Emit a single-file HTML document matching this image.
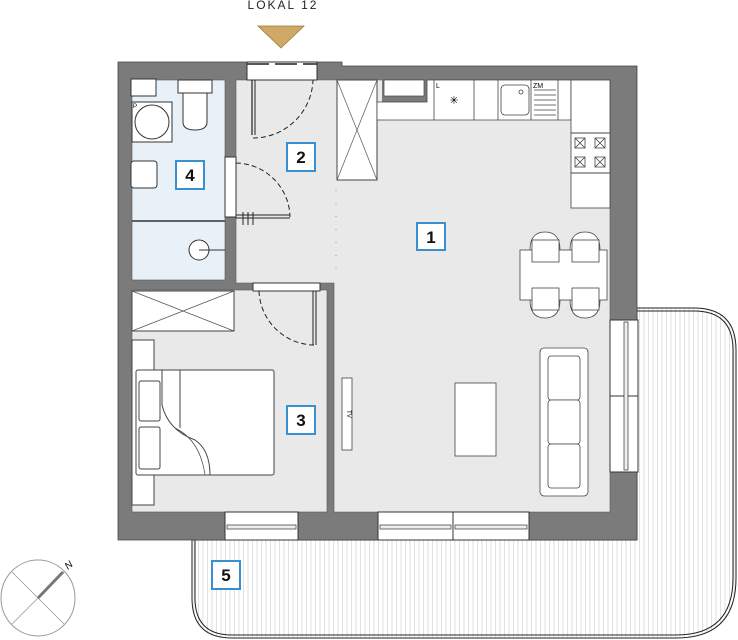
<!DOCTYPE html>
<html><head><meta charset="utf-8"><style>html,body{margin:0;padding:0;background:#fff}svg{display:block}</style></head>
<body>
<svg width="738" height="640" viewBox="0 0 738 640" xmlns="http://www.w3.org/2000/svg" font-family="Liberation Sans, sans-serif">
<defs>
<pattern id="st" width="4.5" height="10" patternUnits="userSpaceOnUse"><rect width="4.5" height="10" fill="#fff"/><line x1="0.5" y1="0" x2="0.5" y2="10" stroke="#d8d8d8" stroke-width="0.8"/></pattern>
</defs>
<!-- terrace -->
<path d="M192 540 L192 598 Q192 638 232 638 L676 638 Q736 638 736 578 L736 350 Q736 308 694 308 L637 308 L637 540 Z" fill="url(#st)" stroke="#222" stroke-width="1"/>
<path d="M195 540 L195 598 Q195 635 232 635 L676 635 Q733 635 733 578 L733 350 Q733 311 694 311 L637 311" fill="none" stroke="#222" stroke-width="1"/>
<!-- walls -->
<path d="M118 62 L342 62 L342 66 L637 66 L637 540 L118 540 Z" fill="#7b7b7b" stroke="#444" stroke-width="0.8"/>
<!-- floors -->
<rect x="132" y="80" width="93" height="200" fill="#e8f0f8" stroke="#555" stroke-width="0.6"/>
<path d="M236 80 L610 80 L610 512 L334 512 L334 283 L236 283 Z" fill="#e9e9e9" stroke="#555" stroke-width="0.6"/>
<rect x="132" y="290" width="195" height="222" fill="#e9e9e9" stroke="#555" stroke-width="0.6"/>
<!-- entrance door -->
<rect x="247" y="62" width="70" height="18" fill="#fff" stroke="#333"/>
<line x1="247" y1="64" x2="317" y2="64" stroke="#222" stroke-width="1.5" stroke-dasharray="22 6"/>
<line x1="252" y1="80" x2="252" y2="135" stroke="#222" stroke-width="1.2"/><line x1="255" y1="80" x2="255" y2="135" stroke="#222" stroke-width="1"/>
<path d="M253 138 A60 60 0 0 0 313 80" fill="none" stroke="#222" stroke-dasharray="5 3"/>
<!-- triangle & title -->
<polygon points="258,26 304,26 281,48" fill="#cfa965" stroke="#9a7a40" stroke-width="0.8"/>
<text x="283" y="9" text-anchor="middle" font-size="12" letter-spacing="2" fill="#222">LOKAL 12</text>
<!-- bath door -->
<rect x="225" y="157" width="11" height="60" fill="#fff" stroke="#333"/>
<path d="M236 163 A55 55 0 0 1 290 217" fill="none" stroke="#222" stroke-dasharray="5 3"/>
<line x1="236" y1="215" x2="290" y2="215" stroke="#222"/><line x1="236" y1="218" x2="290" y2="218" stroke="#222"/>
<g stroke="#222"><line x1="243" y1="212" x2="243" y2="225"/><line x1="248" y1="212" x2="248" y2="225"/><line x1="253" y1="212" x2="253" y2="225"/></g>
<!-- bath fixtures -->
<rect x="131" y="79" width="25" height="17" fill="#fff" stroke="#333"/>
<rect x="132" y="102" width="40" height="40" fill="#fff" stroke="#333"/>
<circle cx="152" cy="122" r="17" fill="#fff" stroke="#333"/>
<text x="133" y="108" font-size="6">P</text>
<rect x="178" y="80" width="34" height="13" fill="#fff" stroke="#333"/>
<path d="M183 93 L207 93 L207 122 Q207 130 195 130 Q183 130 183 122 Z" fill="#fff" stroke="#333"/>
<rect x="131" y="161" width="26" height="27" rx="3" fill="#fff" stroke="#333"/>
<line x1="132" y1="221" x2="225" y2="221" stroke="#333" stroke-width="1.5"/>
<circle cx="199" cy="250" r="10" fill="#fff" stroke="#333"/><line x1="199" y1="250" x2="225" y2="250" stroke="#333"/>
<!-- hall dots -->
<line x1="336" y1="190" x2="336" y2="270" stroke="#999" stroke-dasharray="1 12"/>
<!-- bedroom door -->
<rect x="253" y="283" width="67" height="8" fill="#fff" stroke="#333"/>
<line x1="316" y1="291" x2="316" y2="345" stroke="#222"/><line x1="313" y1="291" x2="313" y2="345" stroke="#222"/>
<path d="M259 291 A56 56 0 0 0 314 345" fill="none" stroke="#222" stroke-dasharray="5 3"/>
<!-- bedroom furniture -->
<rect x="132" y="291" width="102" height="40" fill="#fff" stroke="#444"/>
<path d="M132 291 L234 331 M234 291 L132 331" stroke="#555" stroke-width="0.7"/>
<rect x="132" y="340" width="22" height="165" fill="#fff" stroke="#444"/>
<rect x="136" y="370" width="138" height="105" rx="2" fill="#fff" stroke="#444"/>
<line x1="180" y1="370" x2="180" y2="428" stroke="#444"/>
<path d="M162 370 L162 405 Q168 430 195 440 Q210 450 210 475" fill="none" stroke="#444"/>
<path d="M175 428 Q200 440 205 475" fill="none" stroke="#444" stroke-width="0.7"/>
<rect x="139" y="381" width="21" height="40" rx="2" fill="#fff" stroke="#444"/>
<rect x="139" y="427" width="21" height="42" rx="2" fill="#fff" stroke="#444"/>
<!-- kitchen -->
<rect x="337" y="80" width="40" height="100" fill="#fff" stroke="#444"/>
<path d="M337 80 L377 180 M377 80 L337 180" stroke="#555" stroke-width="0.7"/>
<rect x="382" y="80" width="45" height="22" fill="#7b7b7b"/><rect x="384" y="80" width="40" height="16" fill="#fff" stroke="#444" stroke-width="0.7"/>
<path d="M377 102 L427 102 L427 80 L571 80 L571 120 L377 120 Z" fill="#fff" stroke="#444" stroke-width="0.8"/>
<g stroke="#444" stroke-width="0.8" fill="none"><line x1="434" y1="80" x2="434" y2="120"/><line x1="474" y1="80" x2="474" y2="120"/><line x1="498" y1="80" x2="498" y2="120"/><line x1="531" y1="80" x2="531" y2="120"/><line x1="558" y1="80" x2="558" y2="120"/>
<rect x="501" y="85" width="28" height="30" rx="4"/><circle cx="521" cy="92" r="2"/>
<path d="M534 90 H556 M534 95 H556 M534 100 H556 M534 105 H556 M534 110 H556 M534 115 H556"/></g>
<text x="436" y="88" font-size="7">L</text><text x="533" y="88" font-size="7">ZM</text>
<text x="454" y="104" font-size="11" text-anchor="middle">✳</text>
<rect x="571" y="80" width="39" height="128" fill="#fff" stroke="#444" stroke-width="0.8"/>
<line x1="571" y1="133" x2="610" y2="133" stroke="#444"/><line x1="571" y1="173" x2="610" y2="173" stroke="#444"/>
<g fill="none" stroke="#444" stroke-width="0.8">
<rect x="575" y="138" width="10" height="10"/><rect x="595" y="138" width="10" height="10"/><rect x="575" y="157" width="10" height="10"/><rect x="595" y="157" width="10" height="10"/>
<path d="M575 138 l10 10 m0 -10 l-10 10 M595 138 l10 10 m0 -10 l-10 10 M575 157 l10 10 m0 -10 l-10 10 M595 157 l10 10 m0 -10 l-10 10"/></g>
<!-- dining -->
<g fill="#fff" stroke="#444" stroke-width="0.8">
<path d="M530 250 Q530 232 545 232 Q560 232 560 250"/><path d="M570 250 Q570 232 585 232 Q600 232 600 250"/>
<path d="M530 300 Q530 318 545 318 Q560 318 560 300"/><path d="M570 300 Q570 318 585 318 Q600 318 600 300"/>
<rect x="520" y="250" width="87" height="50"/>
<rect x="532" y="240" width="27" height="22"/><rect x="572" y="240" width="27" height="22"/>
<rect x="532" y="288" width="27" height="22"/><rect x="572" y="288" width="27" height="22"/>
<!-- sofa -->
<rect x="540" y="348" width="48" height="148" rx="4"/>
<rect x="548" y="356" width="32" height="44" rx="3"/><rect x="548" y="400" width="32" height="44" rx="3"/><rect x="548" y="444" width="32" height="44" rx="3"/>
<rect x="455" y="383" width="41" height="73"/>
<rect x="342" y="378" width="10" height="72"/>
</g>
<text x="347" y="414" font-size="6" transform="rotate(90 347 414)" text-anchor="middle">TV</text>
<!-- right windows -->
<rect x="610" y="320" width="28" height="152" fill="#fff" stroke="#333"/>
<line x1="610" y1="396" x2="638" y2="396" stroke="#333"/>
<rect x="624" y="322" width="4" height="148" fill="#eee" stroke="#333" stroke-width="0.7"/>
<!-- bottom windows -->
<g fill="#fff" stroke="#333">
<rect x="225" y="512" width="73" height="28"/><rect x="378" y="512" width="75" height="28"/><rect x="453" y="512" width="76" height="28"/>
</g>
<g fill="#eee" stroke="#333" stroke-width="0.7">
<rect x="227" y="525" width="69" height="4"/><rect x="380" y="525" width="71" height="4"/><rect x="455" y="525" width="72" height="4"/>
</g>
<!-- labels -->
<g fill="#fff" stroke="#3a8fd0" stroke-width="2">
<rect x="417" y="223" width="28" height="27"/><rect x="287" y="143" width="28" height="28"/><rect x="287" y="406" width="28" height="28"/><rect x="176" y="161" width="28" height="28"/><rect x="212" y="561" width="28" height="28"/>
</g>
<g font-size="17" font-weight="bold" text-anchor="middle" fill="#111">
<text x="431" y="243">1</text><text x="301" y="163">2</text><text x="301" y="426">3</text><text x="190" y="181">4</text><text x="226" y="581">5</text>
</g>
<!-- compass -->
<ellipse cx="38" cy="598" rx="37" ry="38" fill="none" stroke="#999"/>
<path d="M12 572 L64 624 M12 624 L64 572" stroke="#999" stroke-width="0.8"/>
<line x1="38" y1="598" x2="63" y2="572" stroke="#777" stroke-width="3"/>
<text x="68" y="570" font-size="10" font-style="italic" transform="rotate(-40 68 570)">N</text>
</svg>
</body></html>
